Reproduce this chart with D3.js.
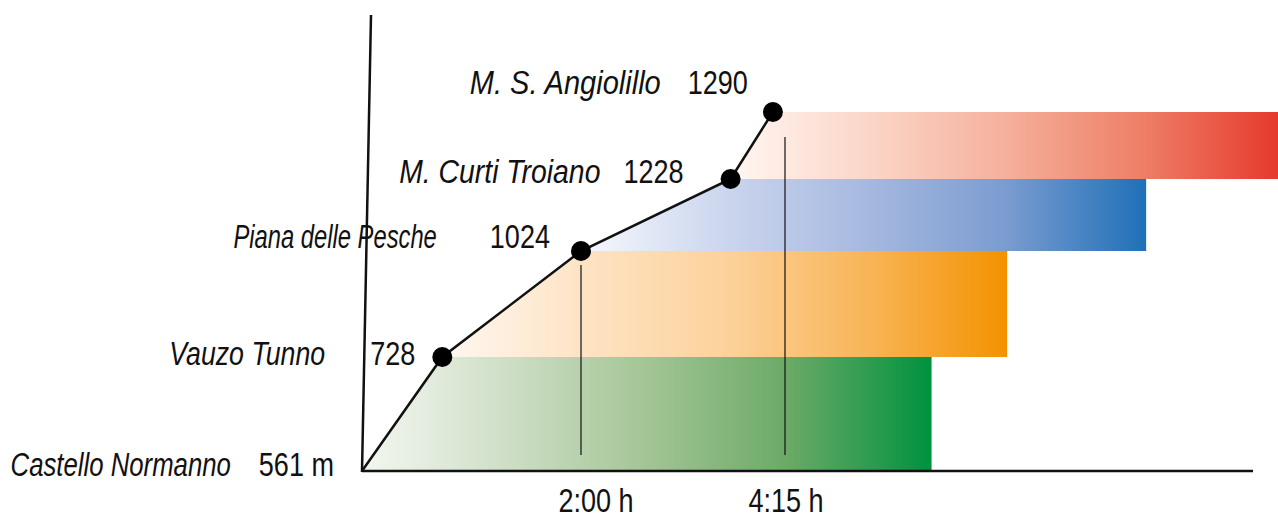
<!DOCTYPE html>
<html>
<head>
<meta charset="utf-8">
<script src="https://cdn.jsdelivr.net/npm/d3@7"></script>
<style>
    body { margin: 0; background: #fff; }
    text { font-family: "Liberation Sans", Arial, sans-serif; font-size: 33px; fill: #111; }
    .name { font-style: italic; }
</style>
</head>
<body>
<div id="chart"></div>
<script>
// stops along the route
const names = ["Castello Normanno", "Vauzo Tunno", "Piana delle Pesche", "M. Curti Troiano", "M. S. Angiolillo"];
const elevations = [561, 728, 1024, 1228, 1290];
const elevLabels = ["561 m", "728", "1024", "1228", "1290"];
const minutes = [0, 44, 120, 219, 247];
// where each coloured band ends (minutes on the time scale)
const bandEnds = [352, 402, 494, 582];
const tickMinutes = [120, 255];
const tickLabels = ["2:00 h", "4:15 h"];

// gradient stops for each band, pale to full colour
const bandStops = [
    ["#f4f7f1", "#cfdfc7", "#a3c595", "#6aa966", "#00923f"],
    ["#fff8f1", "#fde3c4", "#fcd29c", "#f8b558", "#f39200"],
    ["#f6f8fd", "#ccd6ee", "#a7b9e0", "#7b9cd0", "#1f70b8"],
    ["#fff6f2", "#fbd6c8", "#f5b09c", "#ee7f66", "#e6392d"]
];

const W = 1278, H = 520;
const origin = {x: 362, y: 471};
const narrow = 0.82; // squeeze text to a condensed look
const nameNarrow = [0.78, 0.81, 0.72, 0.86, 0.88];

// the profile is drawn out of scale, so both scales are piecewise
const x = d3.scaleLinear()
    .domain([0, 120, 255])
    .range([origin.x, origin.x + 219, origin.x + 423]);
const y = d3.scaleLinear()
    .domain(elevations)
    .range([origin.y, origin.y - 114, origin.y - 220, origin.y - 292, origin.y - 359]);

// label offsets relative to each dot: [number end dx, baseline dy, gap to name]
const labelLayout = [[-28, 5, 28], [-27, 8, 45], [-31, -3, 53], [-47, 4, 23], [-25, -18, 27]];
const tickLabelDx = [15, 1];

const svg = d3.select("#chart").append("svg")
    .attr("width", W)
    .attr("height", H);

const defs = svg.append("defs");
const points = elevations.map((e, i) => ({x: x(minutes[i]), y: y(e)}));

bandStops.forEach((stops, i) => {
    const grad = defs.append("linearGradient")
        .attr("id", "band" + i)
        .attr("gradientUnits", "userSpaceOnUse")
        .attr("x1", points[i].x).attr("x2", x(bandEnds[i]))
        .attr("y1", 0).attr("y2", 0);
    stops.forEach((c, j) => {
        grad.append("stop")
            .attr("offset", (j / (stops.length - 1) * 100) + "%")
            .attr("stop-color", c);
    });
});

// bands, their left edge follows the profile line
svg.append("g").selectAll("path")
    .data(bandStops)
    .join("path")
        .attr("fill", (d, i) => `url(#band${i})`)
        .attr("d", (d, i) => {
            const a = points[i], b = points[i + 1];
            const xEnd = x(bandEnds[i]);
            return `M${a.x},${a.y}L${b.x},${b.y}L${xEnd},${b.y}L${xEnd},${a.y}Z`;
        });

// time markers
svg.append("g").selectAll("line")
    .data(tickMinutes)
    .join("line")
        .attr("x1", d => x(d)).attr("x2", d => x(d))
        .attr("y1", (d, i) => i === 0 ? 265 : 137)
        .attr("y2", origin.y - 16)
        .attr("stroke", "#111")
        .attr("stroke-width", 1.2);

svg.append("g").selectAll("text")
    .data(tickLabels)
    .join("text")
        .attr("transform", (d, i) => `translate(${x(tickMinutes[i]) + tickLabelDx[i]},512) scale(${narrow},1)`)
        .attr("text-anchor", "middle")
        .text(d => d);

// axes
svg.append("line")
    .attr("x1", origin.x).attr("y1", origin.y)
    .attr("x2", 1253).attr("y2", origin.y)
    .attr("stroke", "#111").attr("stroke-width", 2.5);
svg.append("line")
    .attr("x1", origin.x).attr("y1", origin.y + 1)
    .attr("x2", origin.x + 9).attr("y2", 15)
    .attr("stroke", "#111").attr("stroke-width", 2.5);

// profile
svg.append("path")
    .datum(points)
    .attr("fill", "none")
    .attr("stroke", "#111")
    .attr("stroke-width", 2.5)
    .attr("d", d3.line().x(d => d.x).y(d => d.y));

svg.append("g").selectAll("circle")
    .data(points.slice(1))
    .join("circle")
        .attr("cx", d => d.x)
        .attr("cy", d => d.y)
        .attr("r", 10)
        .attr("fill", "#000");

// labels
const labels = svg.append("g").selectAll("g")
    .data(names)
    .join("g");

labels.each(function(d, i){
    const g = d3.select(this);
    const numEnd = points[i].x + labelLayout[i][0];
    const base = points[i].y + labelLayout[i][1];
    const num = g.append("text")
        .attr("transform", `translate(${numEnd},${base}) scale(${narrow},1)`)
        .attr("text-anchor", "end")
        .text(elevLabels[i]);
    const numWidth = num.node().getComputedTextLength() * narrow;
    g.append("text")
        .attr("class", "name")
        .attr("transform", `translate(${numEnd - numWidth - labelLayout[i][2]},${base}) scale(${nameNarrow[i]},1)`)
        .attr("text-anchor", "end")
        .text(d);
});
</script>
</body>
</html>
